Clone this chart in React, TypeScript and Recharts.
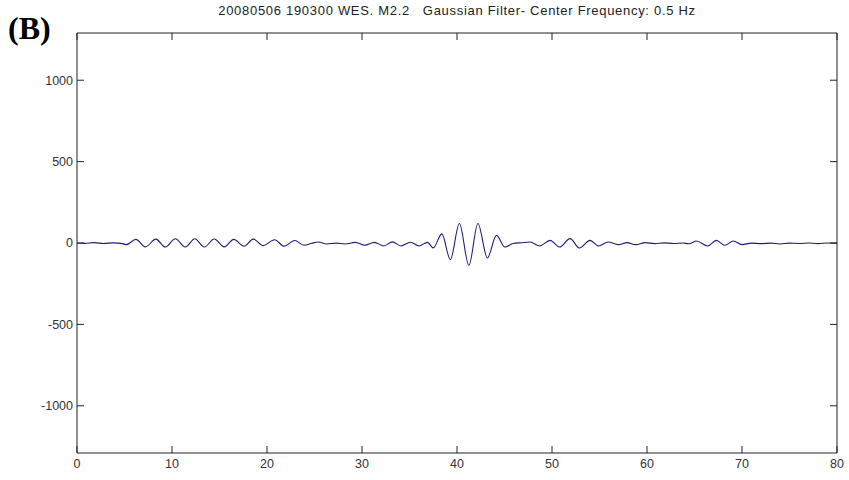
import React from "react";
import { LineChart, Line, XAxis, YAxis } from "recharts";

// Band-passed trace (Gaussian filter, 0.5 Hz): time in seconds and amplitude
// at the successive crests and troughs of the wave.
const timeSec: number[] = [
  0, 0.8, 1.8, 2.8, 3.8, 4.8, 5.2, 6.2, 7.2, 8.3, 9.3, 10.35, 11.4, 12.4, 13.4,
  14.45, 15.5, 16.5, 17.6, 18.55, 19.6, 20.8, 21.8, 22.9, 23.9, 24.7, 25.4,
  26.3, 27.3, 28.2, 29.3, 30.3, 31.3, 32.3, 33.2, 34.1, 35.1, 36.0, 36.9, 37.5,
  38.4, 39.3, 40.25, 41.25, 42.2, 43.2, 44.15, 45.05, 45.9, 46.8, 47.7, 48.7,
  49.8, 50.8, 51.9, 52.9, 54.0, 54.9, 55.9, 57.0, 57.9, 58.8, 59.8, 60.8, 61.8,
  62.8, 63.8, 64.4, 65.2, 66.4, 67.3, 68.2, 69.1, 70.0, 71.0, 72.0, 73.0, 74.0,
  75.0, 76.0, 77.0, 78.0, 79.0, 80.0,
];

const amplitude: number[] = [
  0, -2, 2, -3, 1, -4, -10, 22, -24, 24, -25, 26, -25, 26, -25,
  25, -24, 22, -20, 24, -16, 20, -20, 15, -14, -2, 6,
  -6, -1, -6, 4, -14, 4, -18, 7, -18, 5, -18, 4, -30,
  56, -102, 120, -138, 120, -92, 47, -25, -3, 2, 6, -18,
  16, -25, 27, -31, 16, -18, 6, -10, 2, -10, 2, -4, 1,
  -3, 0, -5, 12, -18, 16, -14, 12, -10, -1, -4, -1, -6,
  -1, -3, 0, -4, 0, -1,
];

const xTicks: number[] = [0, 10, 20, 30, 40, 50, 60, 70, 80];
const yTicks: number[] = [-1000, -500, 0, 500, 1000];
const yLimits: [number, number] = [-1290, 1290];

const chartTitle =
  "20080506 190300 WES. M2.2\u00a0\u00a0\u00a0Gaussian Filter- Center Frequency: 0.5 Hz";
const panelLabel = "(B)";

const rows = timeSec.map((t, i) => ({ t, v: amplitude[i] }));

const axisColor = "#222";
const tickFont = {
  fontFamily: "'Liberation Sans', Arial, sans-serif",
  fontSize: 12.5,
  fill: "#333",
};

// Box sides (top/right) carry inward tick marks only, no labels.
const BlankTick = () => <g />;

export default function App() {
  return (
    <div
      style={{
        position: "absolute",
        left: 0,
        top: 0,
        width: 849,
        height: 480,
        background: "#fff",
        overflow: "hidden",
      }}
    >
      <LineChart
        width={849}
        height={480}
        data={rows}
        margin={{ top: 32, right: 11, bottom: 7, left: 17 }}
      >
        <XAxis
          xAxisId="bottom"
          dataKey="t"
          type="number"
          domain={[0, 80]}
          ticks={xTicks}
          orientation="bottom"
          height={20}
          stroke={axisColor}
          tickSize={-7}
          tickMargin={13}
          tick={tickFont}
          allowDataOverflow
        />
        <XAxis
          xAxisId="top"
          dataKey="t"
          type="number"
          domain={[0, 80]}
          ticks={xTicks}
          orientation="top"
          height={1}
          stroke={axisColor}
          tickSize={-7}
          tick={BlankTick}
          allowDataOverflow
        />
        <YAxis
          yAxisId="left"
          type="number"
          domain={yLimits}
          ticks={yTicks}
          orientation="left"
          width={60}
          stroke={axisColor}
          tickSize={-7}
          tickMargin={11}
          tick={tickFont}
          allowDataOverflow
        />
        <YAxis
          yAxisId="right"
          type="number"
          domain={yLimits}
          ticks={yTicks}
          orientation="right"
          width={1}
          stroke={axisColor}
          tickSize={-7}
          tick={BlankTick}
          allowDataOverflow
        />
        <Line
          xAxisId="bottom"
          yAxisId="left"
          dataKey="v"
          type="monotone"
          stroke="#1c1c78"
          strokeWidth={1.1}
          dot={false}
          isAnimationActive={false}
        />
      </LineChart>
      <div
        style={{
          position: "absolute",
          left: 77,
          width: 760,
          top: 3,
          textAlign: "center",
          fontFamily: "'Liberation Sans', Arial, sans-serif",
          fontSize: 13,
          letterSpacing: 0.7,
          color: "#222",
          whiteSpace: "pre",
        }}
      >
        {chartTitle}
      </div>
      <div
        style={{
          position: "absolute",
          left: 8,
          top: 12,
          fontFamily: "'Liberation Serif', 'Times New Roman', serif",
          fontWeight: "bold",
          fontSize: 32,
          color: "#000",
          lineHeight: 1,
        }}
      >
        {panelLabel}
      </div>
    </div>
  );
}
